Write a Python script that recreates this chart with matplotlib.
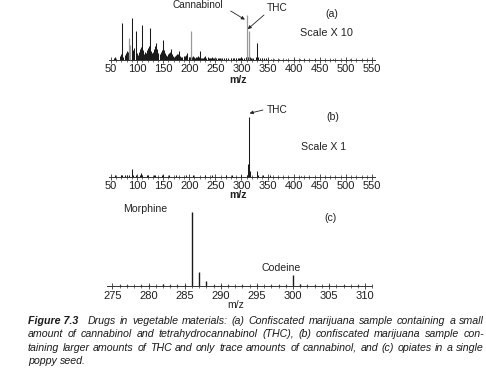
import matplotlib
matplotlib.use('Agg')
import matplotlib.pyplot as plt
from matplotlib.ticker import MultipleLocator

plt.rcParams['font.family'] = ['Liberation Sans', 'DejaVu Sans']

# ---------------- data ----------------
# Panel (a): marijuana sample, scale x10 (black = main spectrum, grey = overlay)
a_black_mz = [55, 57, 67, 69, 71, 73, 77, 79, 81, 83, 91, 93, 95, 97, 99, 101, 103, 105, 107, 109,
              111, 113, 115, 117, 119, 121, 123, 125, 127, 129, 131, 133, 135, 136, 137, 139, 141, 143,
              145, 147, 149, 150, 151, 153, 155, 157, 159, 161, 163, 165, 167, 169, 171, 173, 175,
              177, 179, 181, 183, 185, 187, 189, 191, 193, 195, 196, 199, 201, 203, 205, 207, 209,
              211, 213, 215, 217, 219, 220, 223, 225, 227, 229, 231, 233, 235, 237, 239, 241, 243,
              245, 247, 251, 255, 257, 259, 263, 267, 271, 275, 279, 283, 285, 289, 293, 295, 297,
              299, 301, 305, 309, 311, 313, 315, 317, 319, 323, 327, 329, 331, 335, 339, 343, 347,
              351, 357, 363, 371, 385, 401, 413, 419, 441, 475, 507]
a_black_int = [3, 5, 8, 12, 76, 6, 10, 14, 18, 16, 88, 20, 24, 59, 14, 10, 16, 22, 26, 73,
               20, 12, 16, 14, 20, 24, 28, 67, 18, 14, 16, 22, 28, 35, 26, 22, 14, 12,
               16, 20, 26, 42, 20, 14, 10, 8, 12, 14, 16, 22, 12, 8, 6, 8, 10,
               12, 12, 17, 8, 6, 6, 8, 8, 10, 8, 14, 6, 5, 6, 5, 8, 5,
               4, 5, 6, 8, 6, 17, 4, 3, 4, 5, 7, 4, 5, 3, 3, 4, 5,
               3, 3, 3, 3, 4, 3, 3, 3, 4, 3, 3, 3, 4, 3, 3, 4, 3,
               6, 4, 3, 5, 6, 5, 17, 5, 3, 4, 5, 35, 5, 3, 3, 4, 3,
               2, 2, 2, 1.5, 1.5, 1.5, 2, 1.5, 1, 1, 1]
a_grey_mz = [85, 87, 203, 310, 314]
a_grey_int = [46, 30, 59, 94, 61]

# Panel (b): marijuana sample, scale x1
b_mz = [57, 69, 71, 77, 81, 85, 91, 93, 97, 105, 107, 109, 119, 121, 133, 135, 147, 149, 161,
        175, 193, 207, 231, 243, 271, 281, 299, 310, 312, 313, 314, 315, 316, 329, 331, 341,
        355, 415]
b_int = [2, 2, 3, 2, 3, 2, 11, 3, 3, 3, 5, 3, 2, 3, 2, 3, 2, 2, 2,
         2, 2, 2, 3, 2, 3, 2, 3, 3, 6, 20, 93, 20, 9, 8, 3, 2,
         2, 1.5]

# Panel (c): single poppy seed
c_mz = [276, 277, 279, 280, 282, 283, 284, 285, 286, 287, 288, 289, 290, 291, 293, 295, 297,
        298, 299, 300, 301, 302, 303, 305, 307, 309]
c_int = [1.5, 2, 2, 1, 3, 1.5, 1, 1.5, 92, 18, 7, 2, 1, 1, 2, 1.5, 2,
         1.5, 1.5, 13.5, 3, 1.5, 1, 1, 1.5, 1]

caption_head = "Figure 7.3"
caption_lines = [
    "Drugs in vegetable materials: (a) Confiscated marijuana sample containing a small",
    "amount of cannabinol and tetrahydrocannabinol (THC), (b) confiscated marijuana sample con-",
    "taining larger amounts of THC and only trace amounts of cannabinol, and (c) opiates in a single",
    "poppy seed.",
]

# ---------------- figure ----------------
W, H = 486, 369
fig = plt.figure(figsize=(W / 100, H / 100), dpi=100)
INK = '#1a1a1a'


def px_axes(left, top, right, bottom):
    return fig.add_axes([left / W, 1 - bottom / H, (right - left) / W, (bottom - top) / H])


def style(ax, major, minor, xlim):
    for s in ['left', 'right', 'top']:
        ax.spines[s].set_visible(False)
    ax.spines['bottom'].set_linewidth(0.7)
    ax.spines['bottom'].set_color('#333333')
    ax.set_yticks([])
    ax.set_xlim(*xlim)
    ax.set_ylim(0, 100)
    ax.xaxis.set_major_locator(MultipleLocator(major))
    ax.xaxis.set_minor_locator(MultipleLocator(minor))
    ax.tick_params(axis='x', which='major', direction='inout', length=4, width=0.6,
                   labelsize=8.0, pad=1.2, color='#333333', labelcolor='#1e1e1e')
    ax.tick_params(axis='x', which='minor', direction='inout', length=2.6, width=0.5,
                   color='#333333')
    ax.patch.set_alpha(0)


def ftext(x, y, s, **kw):
    kw.setdefault('fontsize', 7.3)
    kw.setdefault('color', '#222222')
    return fig.text(x / W, 1 - y / H, s, ha='center', va='center', **kw)


# Panel (a)
axa = px_axes(109.4, 12, 375.1, 59.5)
style(axa, 50, 10, (47, 556))
axa.vlines(a_black_mz, 0, a_black_int, color=INK, lw=0.75)
axa.vlines(a_grey_mz, 0, a_grey_int, color='#9a9a9a', lw=0.9)

# Panel (b)
axb = px_axes(109.4, 112, 375.1, 176.5)
style(axb, 50, 10, (47, 556))
axb.vlines(b_mz, 0, b_int, color=INK, lw=0.75)

# Panel (c)
axc = px_axes(106.7, 205, 372.4, 286.3)
style(axc, 5, 1, (274.2, 311))
axc.vlines(c_mz, 0, c_int, color=INK, lw=1.0)

# Labels
ftext(198, 5.5, 'Cannabinol', fontsize=7.2)
ftext(277, 8.3, 'THC', fontsize=7.3)
ftext(331.5, 14, '(a)', fontsize=7.6)
ftext(326, 33.5, 'Scale X 10', fontsize=7.8)
ftext(277, 110, 'THC', fontsize=7.3)
ftext(332.7, 117, '(b)', fontsize=7.6)
ftext(324, 146.7, 'Scale X 1', fontsize=7.6)
ftext(145, 208.5, 'Morphine', fontsize=7.6)
ftext(281.5, 268, 'Codeine', fontsize=7.6)
ftext(330.5, 218, '(c)', fontsize=7.6)

ftext(238, 80, 'm/z', fontsize=7.6, weight='bold')
ftext(238, 195, 'm/z', fontsize=7.6, weight='bold')
ftext(236, 305, 'm/z', fontsize=7.6)

arrow = dict(arrowstyle='-|>', lw=0.6, color='#222222', mutation_scale=5, shrinkA=0, shrinkB=0)
axa.annotate('', xy=(306.5, 84), xycoords='data',
             xytext=(230.7, H - 11), textcoords='figure pixels', arrowprops=arrow)
axa.annotate('', xy=(312, 64), xycoords='data',
             xytext=(264, H - 15), textcoords='figure pixels', arrowprops=arrow)
axb.annotate('', xy=(315.5, 98), xycoords='data',
             xytext=(263, H - 110), textcoords='figure pixels', arrowprops=arrow)

# Caption (justified, italic)
renderer = fig.canvas.get_renderer()
cap_y = [320.7, 334.3, 347.7, 361.0]
x_left, x_right = 28, 484

probe = fig.text(0, 0, caption_lines[2], fontsize=10, style='italic')
w10 = probe.get_window_extent(renderer).width
probe.remove()
CAP_FS = 10 * (x_right - x_left) / w10 * 0.985

sp = fig.text(0, 0, 'a a', fontsize=CAP_FS, style='italic')
sp2 = fig.text(0, 0, 'aa', fontsize=CAP_FS, style='italic')
NORMAL_GAP = sp.get_window_extent(renderer).width - sp2.get_window_extent(renderer).width
sp.remove()
sp2.remove()


def place_justified(text, x0, x1, y, justify=True):
    words = text.split(' ')
    ts = [fig.text(0, 1 - y / H, w, fontsize=CAP_FS, style='italic', ha='left', va='center',
                   color='#1a1a1a') for w in words]
    widths = [t.get_window_extent(renderer).width for t in ts]
    if justify and len(words) > 1:
        gap = (x1 - x0 - sum(widths)) / (len(words) - 1)
    else:
        gap = NORMAL_GAP
    x = x0
    for t, w in zip(ts, widths):
        t.set_x(x / W)
        x += w + gap


head = fig.text(x_left / W, 1 - cap_y[0] / H, caption_head, fontsize=CAP_FS, style='italic',
                weight='bold', ha='left', va='center', color='#1a1a1a')
head_end = x_left + head.get_window_extent(renderer).width
place_justified(caption_lines[0], head_end + 3.2 * NORMAL_GAP, x_right, cap_y[0])
place_justified(caption_lines[1], x_left, x_right, cap_y[1])
place_justified(caption_lines[2], x_left, x_right, cap_y[2])
place_justified(caption_lines[3], x_left, x_right, cap_y[3], justify=False)

fig.savefig('out.png', dpi=100)
